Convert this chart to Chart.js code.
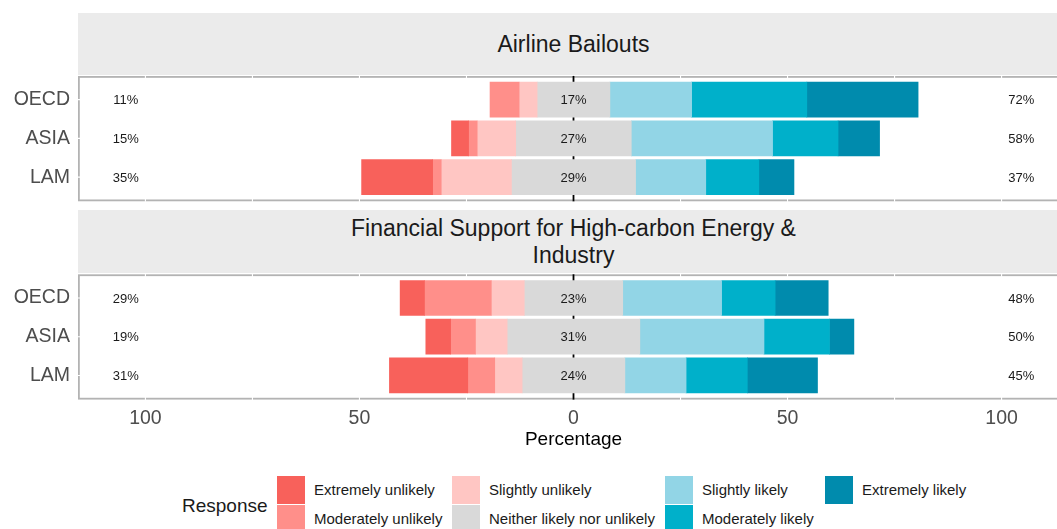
<!DOCTYPE html>
<html>
<head>
<meta charset="utf-8">
<script src="https://cdn.jsdelivr.net/npm/chart.js@4.4.1/dist/chart.umd.min.js"></script>
<style>
html,body{margin:0;padding:0;background:#fff;overflow:hidden;width:1057px;height:529px;font-family:'Liberation Sans',Arial,sans-serif;}
#wrap{position:relative;width:1057px;height:529px;overflow:hidden;}
canvas{position:absolute;left:0;top:0;}
.strip{position:absolute;left:78px;width:991px;background:#EBEBEB;color:#1A1A1A;font-size:23px;line-height:27px;display:flex;align-items:center;justify-content:center;text-align:center;}
.strip span{max-width:480px;}
#legendTitle{position:absolute;left:182px;top:494px;font-size:19px;line-height:24px;color:#1A1A1A;}
.key{position:absolute;width:28px;height:28px;}
.klab{position:absolute;font-size:15px;line-height:18px;color:#1A1A1A;white-space:nowrap;}
</style>
</head>
<body>
<div id="wrap">
  <div class="strip" id="strip0" style="top:13px;height:62px;"><span></span></div>
  <div class="strip" id="strip1" style="top:210px;height:63px;"><span></span></div>
  <canvas id="c1" width="1075" height="230"></canvas>
  <canvas id="c2" width="1075" height="460"></canvas>
  <div id="legend"></div>
</div>
<script>
// ---- categories & labels ----
const regions = ['OECD', 'ASIA', 'LAM'];
const facetTitles = ['Airline Bailouts', 'Financial Support for High-carbon Energy & Industry'];
const responses = ['Extremely unlikely', 'Moderately unlikely', 'Slightly unlikely',
  'Neither likely nor unlikely', 'Slightly likely', 'Moderately likely', 'Extremely likely'];
const responseColors = ['#F8615B', '#FF8F8A', '#FFC6C3', '#D9D9D9', '#92D5E6', '#00B0CA', '#008BAD'];
const xTickValues = [-100, -50, 0, 50, 100];
const axisTitle = 'Percentage';
const legendTitle = 'Response';

// ---- Airline Bailouts (percent of respondents, rows: OECD, ASIA, LAM) ----
const airExtremelyUnlikely  = [0.0, 4.0, 16.6];
const airModeratelyUnlikely = [6.8, 2.0, 2.0];
const airSlightlyUnlikely   = [4.2, 9.0, 16.4];
const airNeither            = [17.0, 27.0, 29.0];
const airSlightlyLikely     = [19.1, 33.0, 16.4];
const airModeratelyLikely   = [26.9, 15.3, 12.4];
const airExtremelyLikely    = [26.0, 9.7, 8.2];

// ---- Financial Support for High-carbon Energy & Industry ----
const finExtremelyUnlikely  = [5.7, 5.8, 18.3];
const finModeratelyUnlikely = [15.6, 5.8, 6.3];
const finSlightlyUnlikely   = [7.7, 7.4, 6.4];
const finNeither            = [23.0, 31.0, 24.0];
const finSlightlyLikely     = [23.1, 29.0, 14.3];
const finModeratelyLikely   = [12.5, 15.3, 14.3];
const finExtremelyLikely    = [12.4, 5.7, 16.4];

const airSeries = [airExtremelyUnlikely, airModeratelyUnlikely, airSlightlyUnlikely, airNeither,
  airSlightlyLikely, airModeratelyLikely, airExtremelyLikely];
const finSeries = [finExtremelyUnlikely, finModeratelyUnlikely, finSlightlyUnlikely, finNeither,
  finSlightlyLikely, finModeratelyLikely, finExtremelyLikely];

Chart.defaults.font.family = "'Liberation Sans', Arial, sans-serif";

// build floating ranges: neutral centred on 0, unlikely to the left, likely to the right
function buildRanges(series) {
  const out = series.map(() => []);
  regions.forEach((r, i) => {
    const n = series[3][i];
    out[3][i] = [-n / 2, n / 2];
    let edge = -n / 2;
    for (let k = 2; k >= 0; k--) {
      const v = series[k][i];
      out[k][i] = v > 0 ? [edge - v, edge] : null;
      edge -= v;
    }
    edge = n / 2;
    for (let k = 4; k <= 6; k++) {
      const v = series[k][i];
      out[k][i] = v > 0 ? [edge, edge + v] : null;
      edge += v;
    }
  });
  return out;
}

const likertPlugin = {
  id: 'likert',
  beforeDatasetsDraw(chart) {
    const {ctx, chartArea: a, scales: {x, y}} = chart;
    const band = (a.bottom - a.top) / regions.length;
    const top = a.top - 0.1 * band + 0.5, bottom = a.bottom + 0.1 * band;
    const line = (x1, y1, x2, y2) => { ctx.beginPath(); ctx.moveTo(x1, y1); ctx.lineTo(x2, y2); ctx.stroke(); };
    ctx.save();
    ctx.strokeStyle = '#B3B3B3';
    ctx.lineWidth = 1.8;
    ctx.strokeRect(a.left + 0.9, top, a.right - a.left + 10, bottom - top);
    ctx.strokeStyle = '#FFFFFF';
    ctx.lineWidth = 1.1;
    for (let v = -100; v <= 100; v += 25) {
      const px = x.getPixelForValue(v);
      line(px, top - 1.5, px, bottom + 1.5);
    }
    regions.forEach((r, i) => {
      const py = y.getPixelForValue(i);
      line(a.left - 1, py, a.right, py);
    });
    ctx.strokeStyle = '#000000';
    ctx.lineWidth = 1.8;
    const zx = x.getPixelForValue(0);
    line(zx, top - 1, zx, bottom + 1);
    ctx.restore();
  },
  afterDatasetsDraw(chart, args, opts) {
    const {ctx, scales: {x, y}} = chart;
    const s = opts.series;
    ctx.save();
    ctx.font = "13px 'Liberation Sans', Arial, sans-serif";
    ctx.fillStyle = '#1A1A1A';
    ctx.textAlign = 'center';
    ctx.textBaseline = 'middle';
    regions.forEach((r, i) => {
      const py = y.getPixelForValue(i) + 1;
      const neg = s[0][i] + s[1][i] + s[2][i];
      const neu = s[3][i];
      const pos = s[4][i] + s[5][i] + s[6][i];
      ctx.fillText(Math.round(neg) + '%', x.getPixelForValue(-104.6), py);
      ctx.fillText(Math.round(neu) + '%', x.getPixelForValue(0), py);
      ctx.fillText(Math.round(pos) + '%', x.getPixelForValue(104.6), py);
    });
    ctx.restore();
  }
};

function makeChart(id, series, showX, padTop, padBottom) {
  const ranges = buildRanges(series);
  return new Chart(document.getElementById(id), {
    type: 'bar',
    data: {
      labels: regions,
      datasets: responses.map((r, k) => ({
        label: r, data: ranges[k], backgroundColor: responseColors[k],
        borderWidth: 0, grouped: false, barThickness: 35
      }))
    },
    options: {
      indexAxis: 'y', responsive: false, animation: false, events: [],
      layout: {padding: {top: padTop, bottom: padBottom, left: 0, right: 6}},
      plugins: {legend: {display: false}, tooltip: {enabled: false}, likert: {series}},
      scales: {
        x: {
          type: 'linear', min: -115.75, max: 115.75, display: showX,
          grid: {display: false, drawTicks: false}, border: {display: false},
          afterBuildTicks: (sc) => { sc.ticks = xTickValues.map(v => ({value: v})); },
          ticks: {callback: (v) => String(Math.abs(v)), font: {size: 19.5}, color: '#4D4D4D',
            padding: 12.5, maxRotation: 0, autoSkip: false},
          title: {display: true, text: axisTitle, font: {size: 19}, color: '#000000', padding: {top: 0, bottom: 0}},
          afterFit: (sc) => { if (showX) sc.height = 56.5; }
        },
        y: {
          grid: {display: false, drawTicks: false}, border: {display: false},
          ticks: {font: {size: 19.5}, color: '#4D4D4D', padding: 8},
          afterFit: (sc) => { sc.width = 78; }
        }
      }
    },
    plugins: [likertPlugin]
  });
}

// strips
document.querySelector('#strip0 span').textContent = facetTitles[0];
document.querySelector('#strip1 span').textContent = facetTitles[1];

// panel 1: bars area 79.9..196.1 ; panel 2: bars area 278.2..394.4
makeChart('c1', airSeries, false, 80.3, 230 - 196.5);
makeChart('c2', finSeries, true, 278.6, 460 - 394.8 - 56.5);

// legend (two rows, column-major)
const legend = document.getElementById('legend');
const lt = document.createElement('div');
lt.id = 'legendTitle'; lt.textContent = legendTitle; legend.appendChild(lt);
const colKeyX = [277, 452, 665, 825];
const rowKeyY = [476, 505];
responses.forEach((r, k) => {
  const col = Math.floor(k / 2), row = k % 2;
  const key = document.createElement('div');
  key.className = 'key';
  key.style.left = colKeyX[col] + 'px';
  key.style.top = rowKeyY[row] + 'px';
  key.style.background = responseColors[k];
  legend.appendChild(key);
  const lab = document.createElement('div');
  lab.className = 'klab';
  lab.style.left = (colKeyX[col] + 37) + 'px';
  lab.style.top = (rowKeyY[row] + 5) + 'px';
  lab.textContent = r;
  legend.appendChild(lab);
});
</script>
</body>
</html>
